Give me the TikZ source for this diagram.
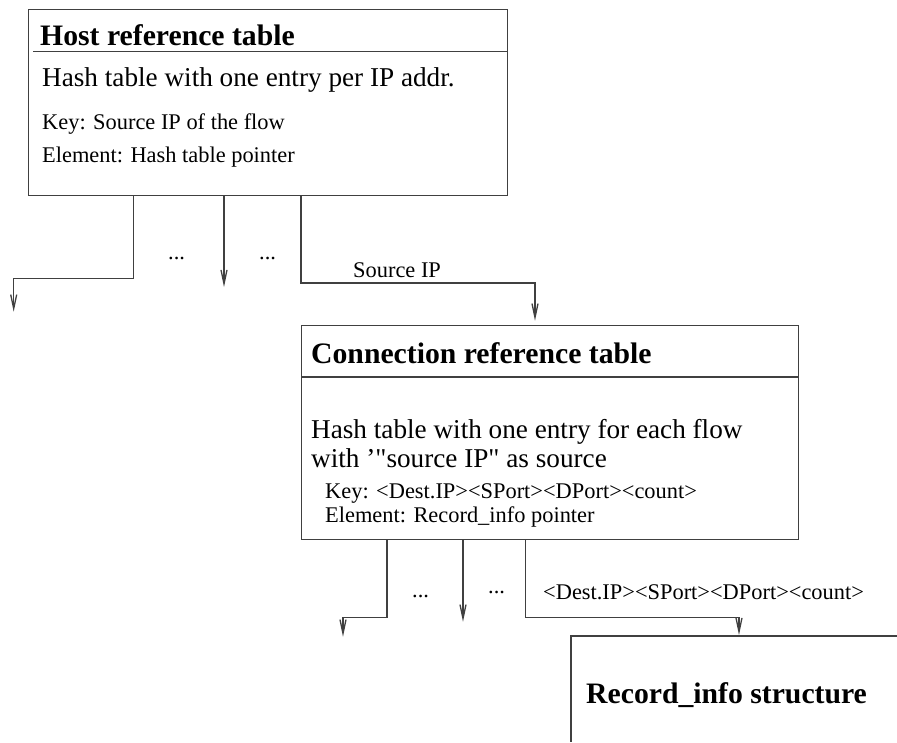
\documentclass[tikz,border=0pt]{standalone}
\usepackage{fontspec}
\setmainfont{Liberation Serif}[Ligatures=TeXOff]
\usetikzlibrary{arrows.meta,calc}
\definecolor{ink}{RGB}{64,64,64}
\tikzset{
  box/.style={draw=ink, line width=1.3pt, rectangle, anchor=north west, inner sep=0pt},
  rule/.style={draw=ink, line width=1.3pt},
  link/.style={draw=ink, line width=1.3pt, -{Straight Barb[length=14pt,width=6pt]}},
  headtxt/.style={anchor=base west, inner sep=0pt, font=\fontsize{29.7}{34}\selectfont\bfseries},
  bodytxt/.style={anchor=base west, inner sep=0pt, font=\fontsize{27.2}{32}\selectfont},
  smalltxt/.style={anchor=base west, inner sep=0pt, font=\fontsize{22.4}{26}\selectfont},
}
\begin{document}
\begin{tikzpicture}[x=1pt,y=-1pt]
\useasboundingbox (0,0) rectangle (897,742);

% Host reference table
\node[box, minimum width=479pt, minimum height=186pt] (host) at (28,9) {};
\draw[rule] ($(host.north west)+(5,42.7)$) -- ($(host.north east)+(0,42.7)$);
\node[headtxt] (hosttitle) at (40,45) {Host reference table};
\node[bodytxt] (hostdesc) at (42,86.5) {Hash table with one entry per IP addr.};
\node[smalltxt] (hostkey) at (42,129.5) {Key: Source IP of the flow};
\node[smalltxt] (hostelem) at (42,162) {Element: Hash table pointer};

% Connection reference table
\node[box, minimum width=497pt, minimum height=214pt] (connbox) at (301,325) {};
\draw[rule] ($(connbox.north west)+(0,52)$) -- ($(connbox.north east)+(0,52)$);
\node[headtxt] (conntitle) at (311,363) {Connection reference table};
\node[bodytxt] (conndesca) at (311,438) {Hash table with one entry for each flow};
\node[bodytxt] (conndescb) at (311,467.5) {with ’"source IP" as source};
\node[smalltxt] (connkey) at (325,498) {Key: <Dest.IP><SPort><DPort><count>};
\node[smalltxt] (connelem) at (325,522.5) {Element: Record\_info pointer};

% Record_info structure (cut by the page edge)
\coordinate (rec) at (571,636);
\draw[rule] (897,636) -- (rec) -- (571,742);
\node[headtxt] (rectitle) at (586,703) {Record\_info structure};

% Links out of the host table
\coordinate (hend) at (13.7,311.7);
\coordinate (hmid) at (224,287);
\draw[link] ($(host.south west)+(105.7,0)$) -- ++(0,82) -| (hend);
\draw[link] (host.south -| hmid) -- (hmid);
\draw[link] ($(host.south west)+(273,0)$) -- ++(0,86.7) -| ($(connbox.north west)+(234,-4.3)$);
\node[smalltxt] (hdots1) at (168,259) {...};
\node[smalltxt] (hdots2) at (259,259) {...};
\node[smalltxt] (srcip) at (353,277) {Source IP};

% Links out of the connection table
\coordinate (cend) at (343,636.7);
\coordinate (cmid) at (463,621.7);
\draw[link] ($(connbox.south west)+(86,0)$) -- ++(0,77) -| (cend);
\draw[link] (connbox.south -| cmid) -- (cmid);
\draw[link] ($(connbox.south west)+(224.7,0)$) -- ++(0,77.5) -| ($(rec)+(168,-1)$);
\node[smalltxt] (cdots1) at (412,597.5) {...};
\node[smalltxt] (cdots2) at (488,593.5) {...};
\node[smalltxt] (destlbl) at (543,599) {<Dest.IP><SPort><DPort><count>};
\end{tikzpicture}
\end{document}
